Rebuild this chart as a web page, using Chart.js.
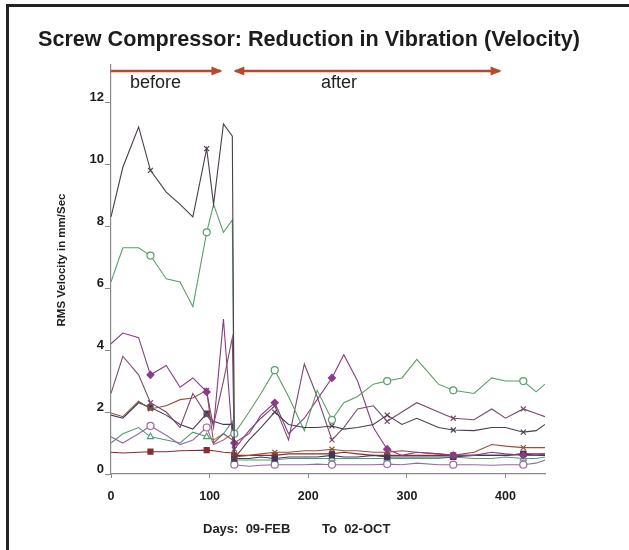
<!DOCTYPE html>
<html>
<head>
<meta charset="utf-8">
<script src="https://cdn.jsdelivr.net/npm/chart.js@4.4.1/dist/chart.umd.min.js"></script>
<style>
  html, body { margin: 0; padding: 0; background: #fff; }
  #chart-vibration { display: block; }
</style>
</head>
<body>
<canvas id="chart-vibration" width="629" height="550"></canvas>
<script>
// sample days (before: 0-123, after: 125-440)
const days = [0, 12, 28, 40, 56, 70, 83, 97, 104, 114, 123,
  125, 140, 152, 166, 180, 196, 209, 224, 236, 250, 266, 280, 295, 310, 332, 347, 368, 386, 400, 418, 431, 440];
// days where the old plotter drew a symbol
const markerDays = [40, 97, 125, 166, 224, 280, 347, 418];

const darkX = [8.3, 9.9, 11.2, 9.8, 9.1, 8.7, 8.3, 10.5, 8.7, 11.3, 10.9,
  0.5, 1.1, 1.5, 2.0, 1.6, 1.5, 1.5, 1.55, 1.45, 1.5, 1.6, 1.9, 1.6, 1.8, 1.5, 1.42, 1.4, 1.5, 1.5, 1.35, 1.4, 1.6];
const greenHigh = [6.2, 7.3, 7.3, 7.05, 6.3, 6.2, 5.4, 7.8, 8.7, 7.8, 8.2,
  1.3, 2.0, 2.6, 3.35, 2.5, 1.4, 2.7, 1.75, 2.3, 2.5, 2.9, 3.0, 3.1, 3.7, 2.9, 2.7, 2.6, 3.1, 3.0, 3.0, 2.65, 2.9];
const magenta = [4.2, 4.55, 4.4, 3.2, 3.5, 2.8, 3.1, 2.65, 1.5, 5.0, 1.2,
  1.0, 1.3, 1.9, 2.3, 1.3, 1.8, 2.4, 3.1, 3.85, 3.0, 1.5, 0.8, 0.6, 0.7, 0.65, 0.6, 0.6, 0.7, 0.65, 0.6, 0.6, 0.65];
const plum = [2.6, 3.8, 3.2, 2.3, 2.0, 1.5, 2.6, 1.9, 1.6, 3.0, 4.4,
  0.8, 1.4, 1.8, 2.2, 1.1, 3.55, 2.5, 1.1, 1.5, 2.1, 2.2, 1.7, 2.0, 2.3, 2.0, 1.8, 1.75, 2.1, 1.8, 2.1, 1.95, 1.85];
const brown = [1.97, 1.85, 2.35, 2.1, 2.2, 2.4, 2.45, 2.7, 1.0, 1.3, 1.1,
  0.55, 0.6, 0.65, 0.7, 0.7, 0.75, 0.75, 0.8, 0.75, 0.75, 0.7, 0.7, 0.75, 0.7, 0.65, 0.6, 0.7, 0.95, 0.9, 0.85, 0.85, 0.85];
const navy = [1.9, 1.8, 2.3, 2.15, 1.9, 1.6, 1.45, 1.95, 1.7, 1.6, 1.6,
  0.5, 0.5, 0.55, 0.5, 0.55, 0.55, 0.55, 0.6, 0.55, 0.55, 0.6, 0.55, 0.55, 0.55, 0.55, 0.55, 0.6, 0.6, 0.6, 0.65, 0.6, 0.6];
const lilac = [1.2, 1.0, 1.3, 1.55, 1.25, 0.95, 1.1, 1.5, 0.95, 1.1, 1.3,
  0.3, 0.25, 0.28, 0.3, 0.3, 0.3, 0.32, 0.3, 0.3, 0.3, 0.3, 0.32, 0.3, 0.35, 0.3, 0.3, 0.3, 0.28, 0.3, 0.3, 0.35, 0.45];
const greenLow = [1.0, 1.3, 1.5, 1.2, 1.1, 1.0, 1.35, 1.2, 1.1, 1.3, 1.7,
  0.45, 0.45, 0.45, 0.45, 0.5, 0.5, 0.5, 0.5, 0.5, 0.5, 0.5, 0.5, 0.5, 0.5, 0.5, 0.55, 0.5, 0.5, 0.55, 0.5, 0.5, 0.55];
const darkRed = [0.7, 0.68, 0.7, 0.72, 0.72, 0.75, 0.76, 0.77, 0.75, 0.7, 0.68,
  0.6, 0.6, 0.6, 0.6, 0.65, 0.65, 0.65, 0.65, 0.7, 0.65, 0.6, 0.6, 0.6, 0.6, 0.6, 0.6, 0.6, 0.6, 0.6, 0.65, 0.65, 0.65];

const xTicks = [0, 100, 200, 300, 400];
const yTicks = [0, 2, 4, 6, 8, 10, 12];
const titleText = "Screw Compressor: Reduction in Vibration (Velocity)";
const yTitle = "RMS Velocity in mm/Sec";

const FONT = '"Liberation Sans", Arial, sans-serif';

function series(label, values, color, style, filled) {
  return {
    label: label,
    data: days.map((d, i) => ({ x: d, y: values[i] })),
    borderColor: color,
    borderWidth: 1.1,
    pointStyle: style,
    pointRadius: (c) => markerDays.includes(days[c.dataIndex]) ? 3.5 : 0,
    pointBorderColor: color,
    pointBackgroundColor: filled ? color : "#fff",
    pointBorderWidth: 1.2,
    tension: 0,
  };
}

function arrow(ctx, x1, x2, yy, headLeft, headRight) {
  ctx.beginPath();
  ctx.moveTo(x1, yy);
  ctx.lineTo(x2, yy);
  ctx.stroke();
  if (headRight) {
    ctx.beginPath();
    ctx.moveTo(x2 + 2, yy);
    ctx.lineTo(x2 - 9, yy - 4.5);
    ctx.lineTo(x2 - 9, yy + 4.5);
    ctx.closePath();
    ctx.fill();
  }
  if (headLeft) {
    ctx.beginPath();
    ctx.moveTo(x1 - 2, yy);
    ctx.lineTo(x1 + 9, yy - 4.5);
    ctx.lineTo(x1 + 9, yy + 4.5);
    ctx.closePath();
    ctx.fill();
  }
}

const decorations = {
  id: "decorations",
  beforeDraw(chart) {
    const ctx = chart.ctx;
    ctx.save();
    ctx.fillStyle = "#fff";
    ctx.fillRect(0, 0, chart.width, chart.height);
    ctx.restore();
  },
  afterDraw(chart) {
    const { ctx } = chart;
    const x = chart.scales.x;
    ctx.save();
    // frame
    ctx.strokeStyle = "#222";
    ctx.lineWidth = 3;
    ctx.beginPath();
    ctx.moveTo(629, 5.5);
    ctx.lineTo(7.5, 5.5);
    ctx.lineTo(7.5, 550);
    ctx.stroke();

    // title
    ctx.fillStyle = "#1c1c1c";
    ctx.textAlign = "left";
    ctx.textBaseline = "alphabetic";
    ctx.font = "bold 21.6px " + FONT;
    ctx.fillText(titleText, 38, 46);

    // before / after arrows
    ctx.strokeStyle = "#b8482e";
    ctx.fillStyle = "#b8482e";
    ctx.lineWidth = 2.5;
    arrow(ctx, x.getPixelForValue(0), x.getPixelForValue(111), 71, false, true);
    arrow(ctx, x.getPixelForValue(126), x.getPixelForValue(394), 71, true, true);
    ctx.fillStyle = "#222";
    ctx.font = "18px " + FONT;
    ctx.fillText("before", 130, 88);
    ctx.fillText("after", 321, 88);

    // axis titles
    ctx.font = "bold 13px " + FONT;
    ctx.fillText("Days:  09-FEB", 203, 533);
    ctx.fillText("To  02-OCT", 322, 533);

    ctx.save();
    ctx.translate(65, 260);
    ctx.rotate(-Math.PI / 2);
    ctx.textAlign = "center";
    ctx.font = "bold 11.5px " + FONT;
    ctx.fillText(yTitle, 0, 0);
    ctx.restore();
    ctx.restore();
  },
};

new Chart(document.getElementById("chart-vibration"), {
  type: "line",
  data: {
    datasets: [
      series("Point 1", darkX, "#4b3f4f", "crossRot", false),
      series("Point 2", greenHigh, "#5a9e68", "circle", false),
      series("Point 3", magenta, "#8a3c86", "rectRot", true),
      series("Point 4", plum, "#7a4a6a", "crossRot", false),
      series("Point 5", brown, "#94503e", "crossRot", false),
      series("Point 6", navy, "#3c3a5a", "rect", true),
      series("Point 7", lilac, "#9a6aa8", "circle", false),
      series("Point 8", greenLow, "#4aa070", "triangle", false),
      series("Point 9", darkRed, "#8a2a2a", "rect", true),
    ],
  },
  options: {
    responsive: false,
    animation: false,
    layout: { padding: { left: 51, top: 65, right: 84, bottom: 46 } },
    plugins: {
      legend: { display: false },
      tooltip: { enabled: false },
    },
    scales: {
      x: {
        type: "linear",
        min: 0,
        max: 440,
        afterFit: (s) => { s.height = 30; },
        afterBuildTicks: (s) => {
          s.ticks = xTicks.map((v) => ({ value: v }));
        },
        ticks: {
          padding: 11,
          color: "#1c1c1c",
          font: { family: FONT, size: 12.5, weight: "bold" },
        },
        grid: { drawOnChartArea: false, tickLength: 4, color: "#8a8a8a" },
        border: { color: "#8a8a8a", width: 1.2 },
      },
      y: {
        type: "linear",
        min: 0,
        max: 13.2,
        afterFit: (s) => { s.width = 60; },
        afterBuildTicks: (s) => {
          s.ticks = yTicks.map((v) => ({ value: v }));
        },
        ticks: {
          padding: 1,
          labelOffset: -5,
          color: "#1c1c1c",
          font: { family: FONT, size: 13, weight: "bold" },
        },
        grid: { drawOnChartArea: false, tickLength: 6, color: "#8a8a8a" },
        border: { color: "#8a8a8a", width: 1.2 },
      },
    },
  },
  plugins: [decorations],
});
</script>
</body>
</html>
